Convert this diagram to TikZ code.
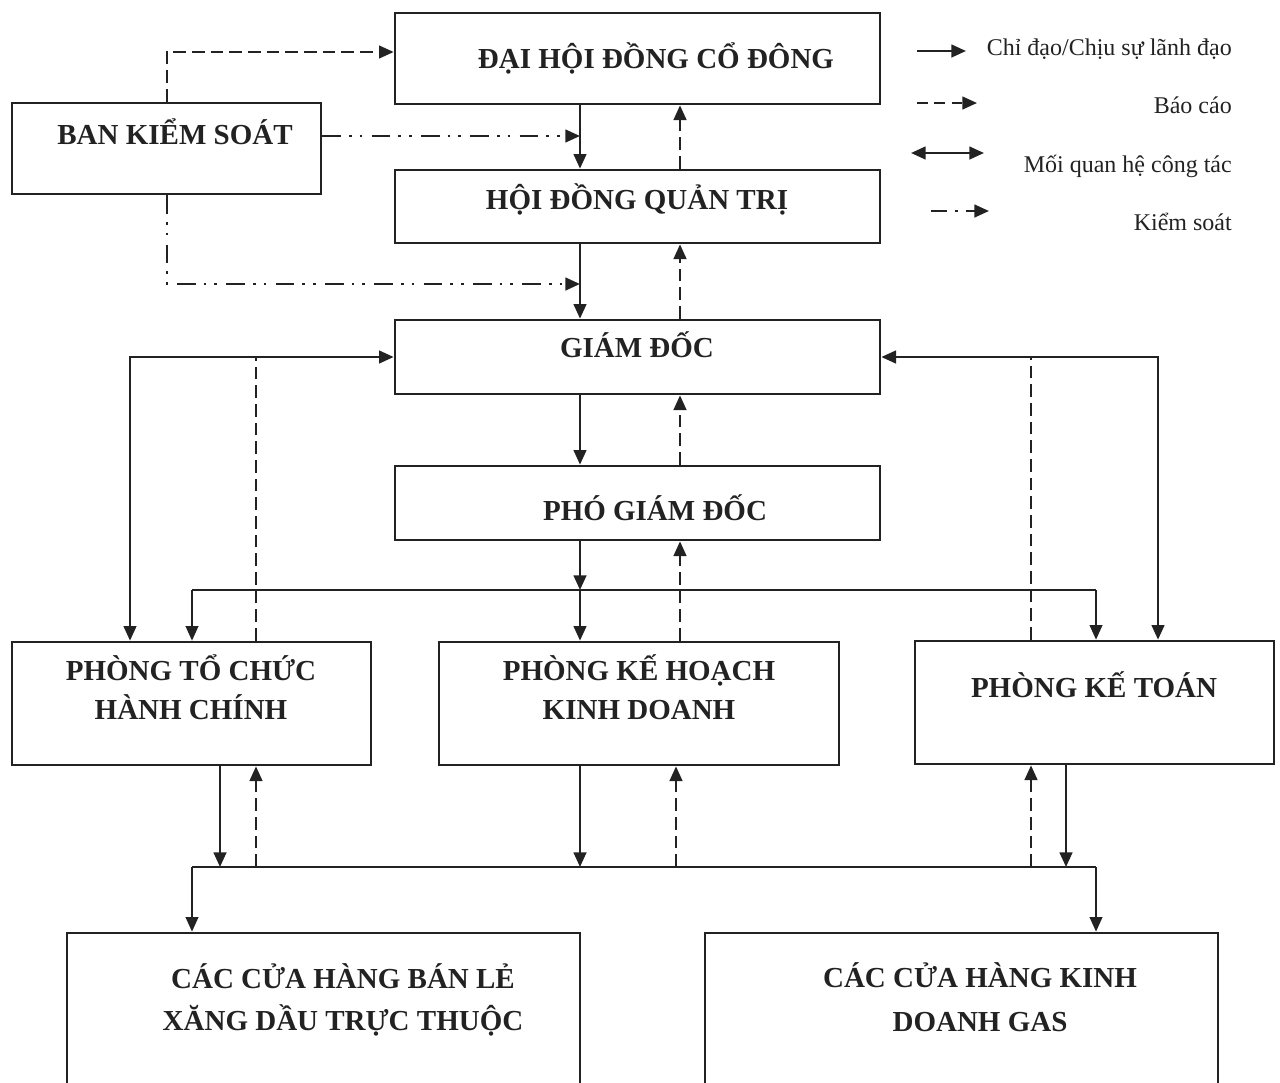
\documentclass[tikz,border=0pt]{standalone}
\usepackage{fontspec}
\setmainfont{Liberation Serif}
\usetikzlibrary{arrows.meta,calc,fit}
\definecolor{inkc}{HTML}{222222}
\begin{document}
\begin{tikzpicture}[x=0.75pt,y=-0.75pt,
  >={Triangle[length=11pt,width=9.5pt]},
  box/.style={draw=inkc, line width=2pt, inner sep=0pt},
  ttl/.style={anchor=base, inner sep=0pt, font=\bfseries\fontsize{21.75}{26}\selectfont, text=inkc},
  lg/.style={anchor=base east, inner sep=0pt, font=\fontsize{18}{22}\selectfont, text=inkc},
  lead/.style={draw=inkc, line width=1.8pt, ->},
  rep/.style={draw=inkc, line width=1.7pt, dash pattern=on 9.5pt off 4.5pt, ->},
  repline/.style={draw=inkc, line width=1.7pt, dash pattern=on 9.5pt off 4.5pt},
  ctrl/.style={draw=inkc, line width=1.8pt, dash pattern=on 14pt off 6pt on 2pt off 6pt on 2pt off 7pt, ->},
  work/.style={draw=inkc, line width=1.8pt, <->},
  bus/.style={draw=inkc, line width=1.3pt},
  busarrow/.style={draw=inkc, line width=1.5pt, ->}
]
\useasboundingbox (0,0) rectangle (1280,1082);
\clip (0,0) rectangle (1280,1082);

% boxes
\node[box, fit={(395,13)(880,104)}] (dhd) {};
\node[box, fit={(12,103)(321,194)}] (bks) {};
\node[box, fit={(395,170)(880,243)}] (hdqt) {};
\node[box, fit={(395,320)(880,394)}] (gd) {};
\node[box, fit={(395,466)(880,540)}] (pgd) {};
\node[box, fit={(12,642)(371,765)}] (ptc) {};
\node[box, fit={(439,642)(839,765)}] (pkh) {};
\node[box, fit={(915,641)(1274,764)}] (pkt) {};
\node[box, fit={(67,933)(580,1110)}] (chbl) {};
\node[box, fit={(705,933)(1218,1110)}] (chgas) {};

% texts
\node[ttl] (tdhd) at (656,68) {ĐẠI HỘI ĐỒNG CỔ ĐÔNG};
\node[ttl] (tbks) at (175,144) {BAN KIỂM SOÁT};
\node[ttl] (thdqt) at (637,209) {HỘI ĐỒNG QUẢN TRỊ};
\node[ttl] (tgd) at (637,357) {GIÁM ĐỐC};
\node[ttl] (tpgd) at (655,520) {PHÓ GIÁM ĐỐC};
\node[ttl] (tptca) at (191,680) {PHÒNG TỔ CHỨC};
\node[ttl] (tptcb) at (191,719) {HÀNH CHÍNH};
\node[ttl] (tpkha) at (639,680) {PHÒNG KẾ HOẠCH};
\node[ttl] (tpkhb) at (639,719) {KINH DOANH};
\node[ttl] (tpkt) at (1094,697) {PHÒNG KẾ TOÁN};
\node[ttl] (tchbla) at (343,988) {CÁC CỬA HÀNG BÁN LẺ};
\node[ttl] (tchblb) at (343,1030) {XĂNG DẦU TRỰC THUỘC};
\node[ttl] (tchga) at (980,987) {CÁC CỬA HÀNG KINH};
\node[ttl] (tchgb) at (980,1031) {DOANH GAS};

% legend
\coordinate (l1a) at (917,51); \coordinate (l1b) at (966,51);
\coordinate (l2a) at (917,103); \coordinate (l2b) at (977,103);
\coordinate (l3a) at (911,153); \coordinate (l3b) at (984,153);
\coordinate (l4a) at (931,211); \coordinate (l4b) at (989,211);
\draw[lead] (l1a) -- (l1b);
\draw[draw=inkc, line width=1.7pt, dash pattern=on 8pt off 5pt, ->] (l2a) -- (l2b);
\draw[work] (l3a) -- (l3b);
\draw[draw=inkc, line width=1.8pt, dash pattern=on 12pt off 6pt on 2pt off 6pt, ->] (l4a) -- (l4b);
\node[lg] (lt1) at (1232,55) {Chỉ đạo/Chịu sự lãnh đạo};
\node[lg] (lt2) at (1232,113) {Báo cáo};
\node[lg] (lt3) at (1232,172) {Mối quan hệ công tác};
\node[lg] (lt4) at (1232,230) {Kiểm soát};

% axis coordinates
\coordinate (xs) at (580,0);   % solid axis
\coordinate (xd) at (680,0);   % dashed axis

% top part
\coordinate (c0) at (167,52);
\draw[rep] (bks.north -| c0) |- (dhd.west |- c0);
\coordinate (c1) at (580,136);
\draw[ctrl] (bks.east |- c1) -- (c1);
\coordinate (c2) at (580,284);
\draw[ctrl] (bks.south -| c0) |- (c2);
\draw[lead] (dhd.south -| xs) -- (hdqt.north -| xs);
\draw[rep] (hdqt.north -| xd) -- (dhd.south -| xd);
\draw[lead] (hdqt.south -| xs) -- (gd.north -| xs);
\draw[rep] (gd.north -| xd) -- (hdqt.south -| xd);
\draw[lead] (gd.south -| xs) -- (pgd.north -| xs);
\draw[rep] (pgd.north -| xd) -- (gd.south -| xd);

% working relations
\coordinate (w0) at (130,357);
\coordinate (w1) at (256,357);
\coordinate (w2) at (1031,357);
\coordinate (w3) at (1158,357);
\draw[work] (gd.west |- w0) -- (w0) -- (ptc.north -| w0);
\draw[repline] (ptc.north -| w1) -- (w1);
\draw[work] (gd.east |- w3) -- (w3) -- (pkt.north -| w3);
\draw[repline] (pkt.north -| w2) -- (w2);

% bus 1
\coordinate (b1) at (580,590);
\coordinate (b1l) at (192,590);
\coordinate (b1r) at (1096,590);
\draw[bus] (b1l) -- (b1r);
\draw[lead] (pgd.south -| b1) -- (b1);
\draw[busarrow] (b1l) -- (ptc.north -| b1l);
\draw[busarrow] (b1r) -- (pkt.north -| b1r);
\draw[lead] (b1) -- (pkh.north -| b1);
\draw[rep] (pkh.north -| xd) -- (pgd.south -| xd);

% bus 2
\coordinate (b2a) at (220,867);
\coordinate (b2b) at (256,867);
\coordinate (b2c) at (580,867);
\coordinate (b2d) at (676,867);
\coordinate (b2e) at (1031,867);
\coordinate (b2f) at (1066,867);
\coordinate (b2l) at (192,867);
\coordinate (b2r) at (1096,867);
\draw[bus] (b2l) -- (b2r);
\draw[lead] (ptc.south -| b2a) -- (b2a);
\draw[rep] (b2b) -- (ptc.south -| b2b);
\draw[lead] (pkh.south -| b2c) -- (b2c);
\draw[rep] (b2d) -- (pkh.south -| b2d);
\draw[rep] (b2e) -- (pkt.south -| b2e);
\draw[lead] (pkt.south -| b2f) -- (b2f);
\draw[busarrow] (b2l) -- (chbl.north -| b2l);
\draw[busarrow] (b2r) -- (chgas.north -| b2r);
\end{tikzpicture}
\end{document}
